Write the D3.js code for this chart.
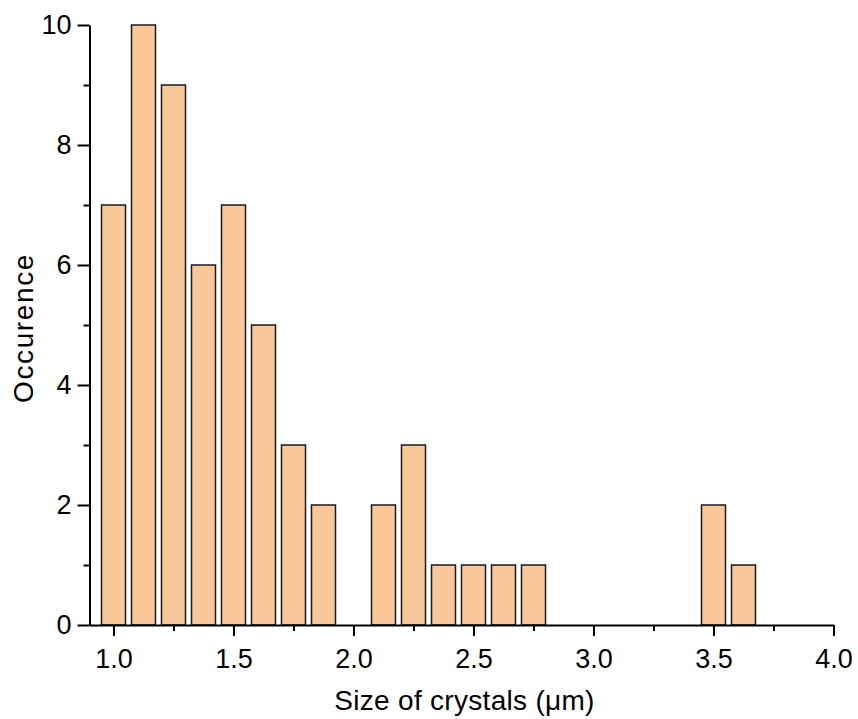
<!DOCTYPE html>
<html>
<head>
<meta charset="utf-8">
<script src="https://cdn.jsdelivr.net/npm/d3@7"></script>
<style>
  html, body { margin: 0; padding: 0; background: #fff; }
  svg { display: block; font-family: "Liberation Sans", Arial, sans-serif; }
</style>
</head>
<body>
<svg id="chart" width="858" height="719"></svg>
<script>
// Histogram bins: centre of each bin (µm) and number of crystals counted in it
const binCenters = [1.0, 1.125, 1.25, 1.375, 1.5, 1.625, 1.75, 1.875, 2.125, 2.25, 2.375, 2.5, 2.625, 2.75, 3.5, 3.625];
const counts     = [7,   10,    9,    6,     7,   5,     3,    2,     2,     3,    1,     1,   1,     1,    2,   1];
const binWidth = 0.1;

const xTicks = [1.0, 1.5, 2.0, 2.5, 3.0, 3.5, 4.0];
const xMinorTicks = [1.25, 1.75, 2.25, 2.75, 3.25, 3.75];
const yTicks = [0, 2, 4, 6, 8, 10];
const yMinorTicks = [1, 3, 5, 7, 9];

const xTitle = "Size of crystals (μm)";
const yTitle = "Occurence";

const svg = d3.select("#chart");
const plot = { left: 89.5, right: 833.5, top: 25, bottom: 625 };

const x = d3.scaleLinear().domain([0.9, 4.0]).range([plot.left, plot.right]);
const y = d3.scaleLinear().domain([0, 10]).range([plot.bottom, plot.top]);

const bins = binCenters.map((c, i) => ({ c, n: counts[i] }));

// bars
svg.append("g")
  .selectAll("rect")
  .data(bins)
  .join("rect")
  .attr("x", d => x(d.c - binWidth / 2))
  .attr("width", d => x(d.c + binWidth / 2) - x(d.c - binWidth / 2))
  .attr("y", d => y(d.n))
  .attr("height", d => y(0) - y(d.n))
  .attr("fill", "#FAC898")
  .attr("stroke", "#1a1a1a")
  .attr("stroke-width", 1.5);

const tickFont = 27;

// x axis
const gx = svg.append("g").attr("transform", `translate(0,${plot.bottom})`);
gx.call(d3.axisBottom(x).tickValues(xTicks).tickFormat(d3.format(".1f")).tickSize(11).tickPadding(13).tickSizeOuter(0));
gx.append("g").call(d3.axisBottom(x).tickValues(xMinorTicks).tickFormat("").tickSize(6).tickSizeOuter(0))
  .select(".domain").remove();

// y axis
const gy = svg.append("g").attr("transform", `translate(${plot.left},0)`);
gy.call(d3.axisLeft(y).tickValues(yTicks).tickFormat(d3.format("d")).tickSize(12).tickPadding(6).tickSizeOuter(0));
gy.append("g").call(d3.axisLeft(y).tickValues(yMinorTicks).tickFormat("").tickSize(6).tickSizeOuter(0))
  .select(".domain").remove();

svg.selectAll(".domain").attr("stroke", "#000").attr("stroke-width", 2);
svg.selectAll(".tick line").attr("stroke", "#000").attr("stroke-width", 2);
svg.selectAll(".tick text")
  .attr("fill", "#000")
  .style("font-size", tickFont + "px")
  .style("font-family", "'Liberation Sans', Arial, sans-serif");

// axis titles
svg.append("text")
  .attr("x", 464.5)
  .attr("y", 710)
  .attr("text-anchor", "middle")
  .style("font-size", "28px")
  .style("letter-spacing", "0.3px")
  .text(xTitle);

svg.append("text")
  .attr("transform", "translate(33,328) rotate(-90)")
  .attr("text-anchor", "middle")
  .style("font-size", "28px")
  .style("letter-spacing", "1.6px")
  .text(yTitle);
</script>
</body>
</html>
